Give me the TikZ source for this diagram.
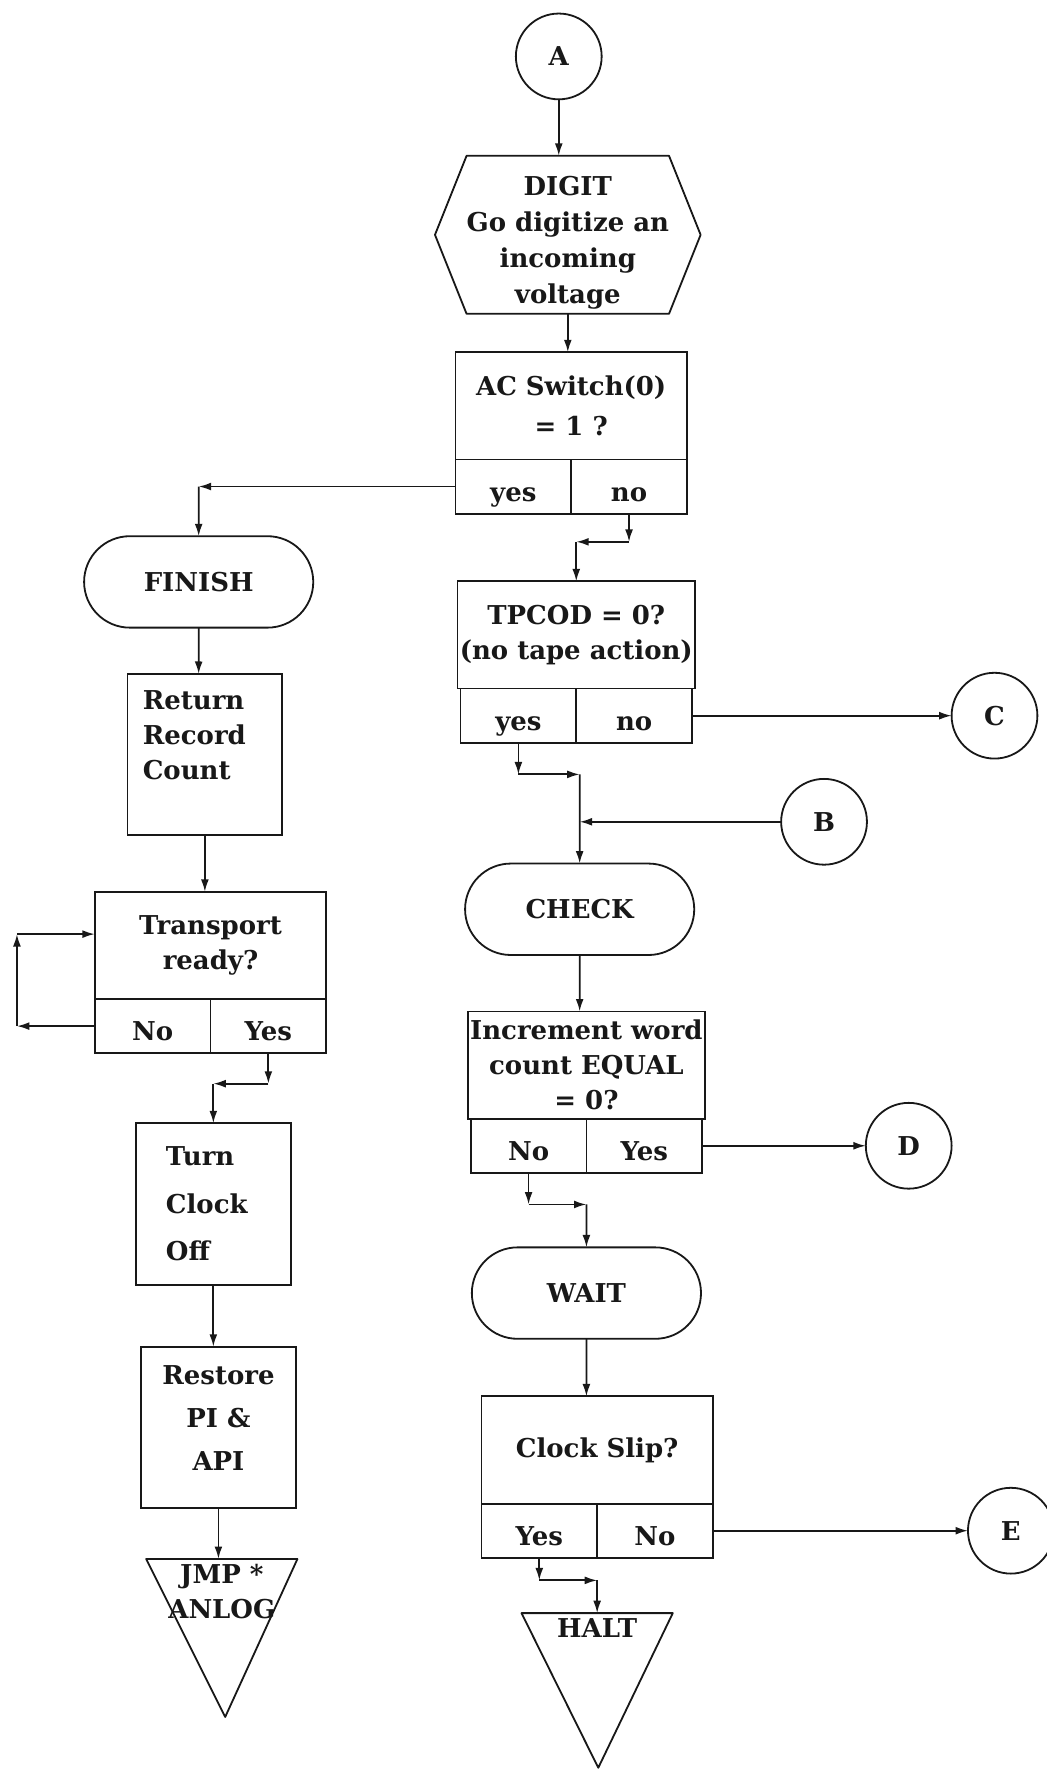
\documentclass[tikz,border=0pt]{standalone}
\usepackage{fontspec}
\setmainfont{DejaVu Serif}
\usetikzlibrary{arrows.meta,positioning,calc,shapes.misc}
\definecolor{fcink}{RGB}{24,24,24}
\definecolor{fcpaper}{RGB}{255,255,255}
\newcommand{\fcfont}{\fontsize{23pt}{31pt}\selectfont\bfseries}
\tikzset{
  fcbox/.style={
    draw=fcink, line width=1.6pt, align=center, inner sep=2pt,
    outer sep=0pt, font=\fcfont, text=fcink
  },
  proc/.style={fcbox, minimum width=137pt, minimum height=143pt},
  ques/.style={fcbox, minimum width=205pt, minimum height=95pt},
  cell/.style={fcbox, minimum width=102.5pt, minimum height=48pt, text height=29pt, text depth=3pt},
  term/.style={fcbox, rounded rectangle, minimum width=207pt, minimum height=81pt},
  conn/.style={fcbox, circle, minimum size=76pt, inner sep=0pt},
  hexa/.style={
    font=\fontsize{23pt}{32pt}\selectfont\bfseries, text=fcink, align=center,
    inner sep=0pt, outer sep=0pt, minimum width=148pt, minimum height=140pt
  },
  jump/.style={
    font=\fcfont, text=fcink, align=center, minimum width=134pt,
    inner xsep=0pt, inner ysep=5pt, outer sep=0pt
  },
  outl/.style={draw=fcink, line width=1.6pt, line join=round},
  arr/.style={-{Latex[length=11pt,width=7pt]}, draw=fcink, line width=1.6pt}
}

\begin{document}
\begin{tikzpicture}[x=1pt, y=-1pt]
  \fill[fcpaper] (0,0) rectangle (927,1568);
  \useasboundingbox (0,0) rectangle (927,1568);

  % main column
  \node[conn] (A) at (495,50) {A};
  \node[hexa, below=50pt of A, xshift=8pt] (digit) {\rule{0pt}{31pt}DIGIT\\Go digitize an\\incoming\\voltage};
  \draw[outl] (digit.north west) -- (digit.north east) -- ($(digit.east)+(28,0)$)
    -- (digit.south east) -- (digit.south west) -- ($(digit.west)+(-28,0)$) -- cycle;
  \node[ques, below=34pt of digit, xshift=3pt, font=\fontsize{23pt}{36pt}\selectfont\bfseries] (ac) {AC Switch(0)\\= 1 ?};
  \node[cell, anchor=north east] (acy) at (ac.south) {yes};
  \node[cell, anchor=north west] (acn) at (ac.south) {no};

  \node[ques, below=60pt of acy.south east, xshift=4.5pt] (tp) {TPCOD = 0?\\(no tape action)};
  \node[cell, anchor=north east] (tpy) at (tp.south) {yes};
  \node[cell, anchor=north west] (tpn) at (tp.south) {no};
  \node[conn, right=230pt of tpn] (C) {C};
  \node[conn] (B) at (730,728) {B};

  \node[term, below=107pt of tpy.south east, xshift=3pt] (check) {CHECK};
  \node[ques, below=50pt of check, xshift=6pt] (inc) {Increment word\\count EQUAL\\= 0?};
  \node[cell, anchor=north east] (incn) at (inc.south) {No};
  \node[cell, anchor=north west] (incy) at (inc.south) {Yes};
  \node[conn, right=145pt of incy] (D) {D};

  \node[term, below=66pt of incn.south east] (wait) {WAIT};
  \node[ques, below=51pt of wait, xshift=9.5pt] (clk) {Clock Slip?};
  \node[cell, anchor=north east] (clky) at (clk.south) {Yes};
  \node[cell, anchor=north west] (clkn) at (clk.south) {No};
  \node[conn, right=226pt of clkn] (E) {E};
  \node[jump, below=49pt of clky.south east] (halt) {HALT};
  \draw[outl] (halt.north west) -- (halt.north east) -- ($(halt.north)+(1,137)$) -- cycle;

  % left column
  \node[term] (finish) at (176,515.5) {FINISH};
  \node[proc, below=41pt of finish, xshift=5.5pt, text width=110pt, align=left] (ret) {Return\\Record\\Count\rule[-34pt]{0pt}{34pt}};
  \node[ques, below=50pt of ret, xshift=5pt] (tr) {Transport\\ready?};
  \node[cell, anchor=north east] (trn) at (tr.south) {No};
  \node[cell, anchor=north west] (try) at (tr.south) {Yes};
  \node[proc, below=62pt of trn.south east, xshift=2.5pt, text width=84pt, align=left,
    font=\fontsize{23pt}{42pt}\selectfont\bfseries] (turn) {Turn\\Clock\\Off};
  \node[proc, below=55pt of turn, xshift=4.5pt,
    font=\fontsize{23pt}{38pt}\selectfont\bfseries] (rest) {Restore\\PI \&\\API\rule[-16pt]{0pt}{16pt}};
  \node[jump, below=45pt of rest, xshift=3pt] (jmp) {JMP *\\ANLOG};
  \draw[outl] (jmp.north west) -- (jmp.north east) -- ($(jmp.north)+(3,140)$) -- cycle;

  % corners of the stepped connectors
  \coordinate (k1) at (finish.north |- acy.west);
  \coordinate (k2) at ($(acn.south)+(0,25)$);
  \coordinate (k3) at (tp.north |- k2);
  \coordinate (k4) at ($(tpy.south)+(0,28)$);
  \coordinate (k5) at (check.north |- k4);
  \coordinate (k6) at (check.north |- B.west);
  \coordinate (k7) at ($(incn.south)+(0,28)$);
  \coordinate (k8) at (wait.north |- k7);
  \coordinate (k9) at ($(clky.south)+(0,20)$);
  \coordinate (k10) at (halt.north |- k9);
  \coordinate (k11) at ($(trn.west)+(-69,0)$);
  \coordinate (k12) at ($(k11 |- tr.west)+(0,-10)$);
  \coordinate (k13) at ($(try.south)+(0,27)$);
  \coordinate (k14) at (turn.north |- k13);

  \draw[arr] (A) -- (A |- digit.north);
  \draw[arr] (digit) -- (digit.south |- ac.north);
  \draw[arr] (acy.west) -- (k1);
  \draw[arr] (k1) -- (finish);
  \draw[arr] (acn.south) -- (k2);
  \draw[arr] (k2) -- (k3);
  \draw[arr] (k3) -- (tp);
  \draw[arr] (tpn.east) -- (C);
  \draw[arr] (tpy.south) -- (k4);
  \draw[arr] (k4) -- (k5);
  \draw[arr] (B) -- (k6);
  \draw[arr] (k5) -- (check);
  \draw[arr] (check) -- (check.south |- inc.north);
  \draw[arr] (incy.east) -- (D);
  \draw[arr] (incn.south) -- (k7);
  \draw[arr] (k7) -- (k8);
  \draw[arr] (k8) -- (wait);
  \draw[arr] (wait) -- (wait.south |- clk.north);
  \draw[arr] (clkn.east) -- (E);
  \draw[arr] (clky.south) -- (k9);
  \draw[arr] (k9) -- (k10);
  \draw[arr] (k10) -- (halt.north);

  \draw[arr] (finish) -- (finish.south |- ret.north);
  \draw[arr] (ret) -- (ret.south |- tr.north);
  \draw[arr] (trn.west) -- (k11);
  \draw[arr] (k11) -- (k12);
  \draw[arr] (k12) -- (k12 -| tr.west);
  \draw[arr] (try.south) -- (k13);
  \draw[arr] (k13) -- (k14);
  \draw[arr] (k14) -- (turn);
  \draw[arr] (turn) -- (turn.south |- rest.north);
  \draw[arr] (rest) -- (rest.south |- jmp.north);
\end{tikzpicture}
\end{document}
